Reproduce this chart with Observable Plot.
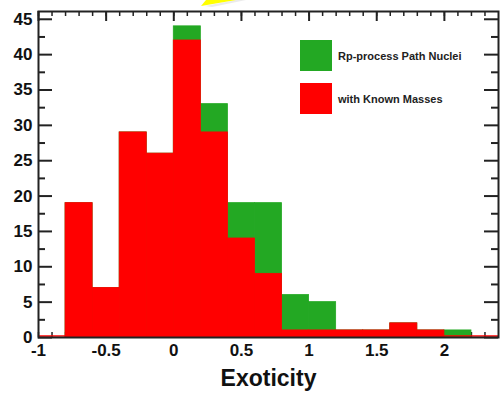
<!DOCTYPE html>
<html>
<head>
<meta charset="utf-8">
<script src="https://cdn.jsdelivr.net/npm/d3@7"></script>
<script src="https://cdn.jsdelivr.net/npm/@observablehq/plot@0.6"></script>
<style>
  html, body { margin: 0; padding: 0; background: #fff; }
  #wrap { position: relative; width: 500px; height: 397px; font-family: "Liberation Sans", Arial, sans-serif; }
  .legend { position: absolute; left: 300px; display: flex; align-items: center; }
  .sw { width: 32px; height: 31px; }
  .lt { margin-left: 6px; font-size: 11px; font-weight: bold; color: #222; white-space: nowrap; }
</style>
</head>
<body>
<div id="wrap"></div>
<script>
// Histogram bins (width 0.2), start of each bin
const binStart = [-0.8, -0.6, -0.4, -0.2, 0.0, 0.2, 0.4, 0.6, 0.8, 1.0, 1.2, 1.4, 1.6, 1.8, 2.0];
const binWidth = 0.2;
// Rp-process path nuclei (all) and those with known masses
const pathNuclei  = [19, 7, 29, 26, 44, 33, 19, 19, 6, 5, 1, 1, 2, 1, 1];
const knownMasses = [19, 7, 29, 26, 42, 29, 14, 9, 1, 1, 1, 1, 2, 1, 0];
const seriesNames = ["Rp-process Path Nuclei", "with Known Masses"];
const seriesColors = ["#23a823", "#ff0000"];
// Axis ticks
const xTickLabels = [-1, -0.5, 0, 0.5, 1, 1.5, 2];
const xMinorTicks = d3.range(-10, 24).map(i => i / 10);
const yTickLabels = [0, 5, 10, 15, 20, 25, 30, 35, 40, 45];
const yMinorTicks = [2.5, 7.5, 12.5, 17.5, 22.5, 27.5, 32.5, 37.5, 42.5];
const xTitle = "Exoticity";

const data = binStart.map((s, i) => ({x1: s, x2: s + binWidth, total: pathNuclei[i], known: knownMasses[i]}));

const W = 500, H = 397, mL = 38, mR = 2, mT = 11, mB = 60;
const pw = W - mL - mR, ph = H - mT - mB;
const tickColor = "#222";

const chart = Plot.plot({
  width: W, height: H,
  marginLeft: mL, marginRight: mR, marginTop: mT, marginBottom: mB,
  style: {fontFamily: '"Liberation Sans", Arial, sans-serif', background: "#fff", color: "#111", overflow: "visible"},
  x: {domain: [-1, 2.4], axis: null},
  y: {domain: [0, 46.1], axis: null},
  marks: [
    // left ticks
    Plot.tickY(yTickLabels, {y: d => d, insetRight: pw - 14, stroke: tickColor, strokeWidth: 2}),
    Plot.tickY(yMinorTicks, {y: d => d, insetRight: pw - 7, stroke: tickColor, strokeWidth: 2}),
    // right ticks
    Plot.tickY(yTickLabels, {y: d => d, insetLeft: pw - 14, stroke: tickColor, strokeWidth: 2}),
    Plot.tickY(yMinorTicks, {y: d => d, insetLeft: pw - 7, stroke: tickColor, strokeWidth: 2}),
    // top ticks
    Plot.tickX(xMinorTicks, {x: d => d, insetBottom: ph - 5, stroke: tickColor, strokeWidth: 1.5}),
    Plot.tickX(xTickLabels, {x: d => d, insetBottom: ph - 10, stroke: tickColor, strokeWidth: 2}),
    // bottom ticks
    Plot.tickX(xMinorTicks, {x: d => d, insetTop: ph - 5, stroke: tickColor, strokeWidth: 1.5}),
    // histogram bars
    Plot.rect(data, {x1: "x1", x2: "x2", y1: 0, y2: "total", fill: seriesColors[0], stroke: seriesColors[0], strokeWidth: 0.8, inset: 0}),
    Plot.rect(data.filter(d => d.known > 0), {x1: "x1", x2: "x2", y1: 0, y2: "known", fill: seriesColors[1], stroke: seriesColors[1], strokeWidth: 0.8, inset: 0}),
    Plot.ruleY([0], {x1: -1, x2: 2.4, stroke: seriesColors[1], strokeWidth: 1.5, dy: -1.5}),
    Plot.frame({stroke: tickColor, strokeWidth: 2}),
    Plot.axisX(xTickLabels, {tickSize: 0, tickPadding: 6, tickFormat: d => String(d), fontSize: 17, fontWeight: "bold", label: null}),
    Plot.axisY(yTickLabels, {tickSize: 0, tickPadding: 6, tickFormat: d => String(d), fontSize: 17, fontWeight: "bold", label: null}),
    Plot.text([xTitle], {frameAnchor: "bottom", text: d => d, dy: 48, lineAnchor: "bottom", fontSize: 23, fontWeight: "bold", fill: "#111"})
  ]
});

// decorative yellow arrow tip at the top (from the source slide)
d3.select(chart).append("polygon")
  .attr("points", "201,6 206,0 236,0")
  .attr("fill", "#ffff00");
d3.select(chart).append("polygon")
  .attr("points", "236,0 246,0 212,7 205,6")
  .attr("fill", "#ddd").attr("opacity", 0.6).lower();

const wrap = document.getElementById("wrap");
wrap.appendChild(chart);
chart.style.position = "absolute";
chart.style.left = "0px";
chart.style.top = "0px";

const legendTops = [40, 83];
seriesNames.forEach((name, i) => {
  const d = document.createElement("div");
  d.className = "legend";
  d.style.top = legendTops[i] + "px";
  d.innerHTML = `<div class="sw" style="background:${seriesColors[i]}"></div><div class="lt">${name}</div>`;
  wrap.appendChild(d);
});
</script>
</body>
</html>
